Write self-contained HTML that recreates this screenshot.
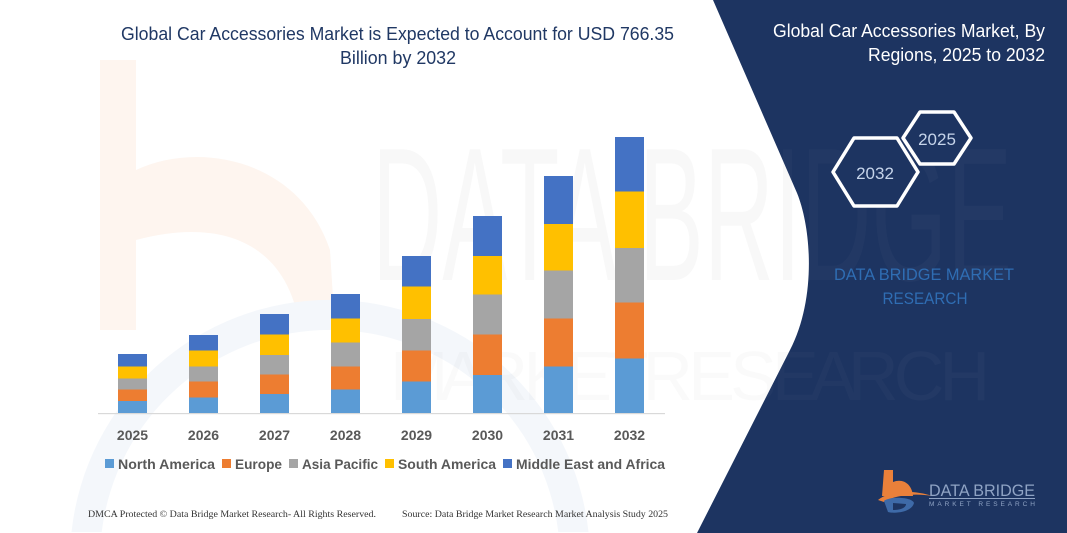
<!DOCTYPE html>
<html><head><meta charset="utf-8"><style>
html,body{margin:0;padding:0;background:#fff;width:1067px;height:533px;overflow:hidden;}
svg{display:block;}
</style></head><body>
<svg width="1067" height="533" viewBox="0 0 1067 533" xmlns="http://www.w3.org/2000/svg">
<defs>
<clipPath id="panel"><path d="M713,0 L1067,0 L1067,533 L697,533 L790,350 C816,300 812,230 797,193 Z"/></clipPath>
</defs>
<rect width="1067" height="533" fill="#fff"/>
<!-- watermarks (left) -->
<path d="M100,60 L136,60 L136,170 C200,140 300,160 330,250 L335,330 L300,330 C290,250 230,215 136,240 L136,330 L100,330 Z" fill="#fef5ef"/>
<path d="M71.5,532 A260,260 0 0 1 588.5,532 L558.3,532 A230,230 0 0 0 101.7,532 Z" fill="#f4f7fb"/>
<text x="372" y="280" font-family="Liberation Sans, sans-serif" font-size="190" fill="#000" opacity="0.022" textLength="640" lengthAdjust="spacingAndGlyphs">DATA BRIDGE</text>
<text x="390" y="400" font-family="Liberation Sans, sans-serif" font-size="70" fill="#000" opacity="0.015" textLength="600" lengthAdjust="spacing">M A R K E T R E S E A R C H</text>

<!-- right panel -->
<path d="M713,0 L1067,0 L1067,533 L697,533 L790,350 C816,300 812,230 797,193 Z" fill="#1d3461"/>
<g clip-path="url(#panel)">
<text x="372" y="280" font-family="Liberation Sans, sans-serif" font-size="190" fill="#fff" opacity="0.025" textLength="640" lengthAdjust="spacingAndGlyphs">DATA BRIDGE</text>
<text x="390" y="400" font-family="Liberation Sans, sans-serif" font-size="70" fill="#fff" opacity="0.025" textLength="600" lengthAdjust="spacing">M A R K E T R E S E A R C H</text>
</g>

<!-- left title -->
<g font-family="Liberation Sans, sans-serif" font-size="18" fill="#203864">
<text x="121" y="40" textLength="553" lengthAdjust="spacingAndGlyphs">Global Car Accessories Market is Expected to Account for USD 766.35</text>
<text x="340" y="64" textLength="116" lengthAdjust="spacingAndGlyphs">Billion by 2032</text>
</g>

<!-- right title -->
<g font-family="Liberation Sans, sans-serif" font-size="18" fill="#fff">
<text x="773" y="37" textLength="272" lengthAdjust="spacingAndGlyphs">Global Car Accessories Market, By</text>
<text x="868" y="61" textLength="177" lengthAdjust="spacingAndGlyphs">Regions, 2025 to 2032</text>
</g>

<!-- hexagons -->
<g fill="#1d3461" stroke="#fff" stroke-width="3.5" stroke-linejoin="round">
<polygon points="903,138 920,112 954,112 971,138 954,164 920,164"/>
<polygon points="833,172 854,138 897,138 918,172 897,206 854,206"/>
</g>
<g font-family="Liberation Sans, sans-serif" font-size="17" fill="#c6d4ea" text-anchor="middle">
<text x="937" y="145">2025</text>
<text x="875" y="179">2032</text>
</g>

<g font-family="Liberation Sans, sans-serif" font-size="17" fill="#2f6db3" text-anchor="middle">
<text x="924" y="280" textLength="180" lengthAdjust="spacingAndGlyphs">DATA BRIDGE MARKET</text>
<text x="925" y="304" textLength="85" lengthAdjust="spacingAndGlyphs">RESEARCH</text>
</g>

<!-- logo -->
<g>
<path d="M884,470 L893,470 L893,482 C903,478 912,484 913,496 L882,496 Z" fill="#e9803a"/>
<path d="M878,500 C890,490 915,490 932,496 C915,493 895,495 884,502 Z" fill="#e9803a"/>
<path d="M884,501 C890,496 912,497 914,503 C912,512 895,514 888,512 Z" fill="#3e6aa8"/>
<path d="M893,503 L893,510 C900,510 906,508 906,504 Z" fill="#1d3461"/>
<text x="929" y="496" font-family="Liberation Sans, sans-serif" font-size="17" fill="#8fa3c4" textLength="106" lengthAdjust="spacingAndGlyphs">DATA BRIDGE</text>
<rect x="929" y="498" width="106" height="1" fill="#8fa3c4"/>
<text x="929" y="506" font-family="Liberation Sans, sans-serif" font-size="6.5" fill="#8fa3c4" textLength="106" lengthAdjust="spacing">MARKET RESEARCH</text>
</g>

<!-- axis -->
<rect x="98" y="413" width="567" height="1.2" fill="#d9d9d9"/>

<!-- bars -->
<g>
<rect x="118" y="401" width="29" height="12" fill="#5b9bd5"/>
<rect x="118" y="389.5" width="29" height="11.5" fill="#ed7d31"/>
<rect x="118" y="378.5" width="29" height="11" fill="#a5a5a5"/>
<rect x="118" y="366.5" width="29" height="12" fill="#ffc000"/>
<rect x="118" y="354" width="29" height="12.5" fill="#4472c4"/>
<rect x="189" y="397.5" width="29" height="15.5" fill="#5b9bd5"/>
<rect x="189" y="381.5" width="29" height="16" fill="#ed7d31"/>
<rect x="189" y="366.5" width="29" height="15" fill="#a5a5a5"/>
<rect x="189" y="350.5" width="29" height="16" fill="#ffc000"/>
<rect x="189" y="335" width="29" height="15.5" fill="#4472c4"/>
<rect x="260" y="394" width="29" height="19" fill="#5b9bd5"/>
<rect x="260" y="374.5" width="29" height="19.5" fill="#ed7d31"/>
<rect x="260" y="355" width="29" height="19.5" fill="#a5a5a5"/>
<rect x="260" y="334.5" width="29" height="20.5" fill="#ffc000"/>
<rect x="260" y="314" width="29" height="20.5" fill="#4472c4"/>
<rect x="331" y="389.5" width="29" height="23.5" fill="#5b9bd5"/>
<rect x="331" y="366.5" width="29" height="23" fill="#ed7d31"/>
<rect x="331" y="342.5" width="29" height="24" fill="#a5a5a5"/>
<rect x="331" y="318.5" width="29" height="24" fill="#ffc000"/>
<rect x="331" y="294" width="29" height="24.5" fill="#4472c4"/>
<rect x="402" y="381.5" width="29" height="31.5" fill="#5b9bd5"/>
<rect x="402" y="350.5" width="29" height="31" fill="#ed7d31"/>
<rect x="402" y="319" width="29" height="31.5" fill="#a5a5a5"/>
<rect x="402" y="286.5" width="29" height="32.5" fill="#ffc000"/>
<rect x="402" y="256" width="29" height="30.5" fill="#4472c4"/>
<rect x="473" y="375" width="29" height="38" fill="#5b9bd5"/>
<rect x="473" y="334.5" width="29" height="40.5" fill="#ed7d31"/>
<rect x="473" y="294.5" width="29" height="40" fill="#a5a5a5"/>
<rect x="473" y="256" width="29" height="38.5" fill="#ffc000"/>
<rect x="473" y="216" width="29" height="40" fill="#4472c4"/>
<rect x="544" y="366.5" width="29" height="46.5" fill="#5b9bd5"/>
<rect x="544" y="318.5" width="29" height="48" fill="#ed7d31"/>
<rect x="544" y="270.5" width="29" height="48" fill="#a5a5a5"/>
<rect x="544" y="224" width="29" height="46.5" fill="#ffc000"/>
<rect x="544" y="176" width="29" height="48" fill="#4472c4"/>
<rect x="615" y="358.5" width="29" height="54.5" fill="#5b9bd5"/>
<rect x="615" y="302.5" width="29" height="56" fill="#ed7d31"/>
<rect x="615" y="248" width="29" height="54.5" fill="#a5a5a5"/>
<rect x="615" y="191.5" width="29" height="56.5" fill="#ffc000"/>
<rect x="615" y="137" width="29" height="54.5" fill="#4472c4"/>
</g>

<!-- year labels -->
<g font-family="Liberation Sans, sans-serif" font-size="14" font-weight="bold" fill="#595959" text-anchor="middle">
<text x="132.5" y="440">2025</text>
<text x="203.5" y="440">2026</text>
<text x="274.5" y="440">2027</text>
<text x="345.5" y="440">2028</text>
<text x="416.5" y="440">2029</text>
<text x="487.5" y="440">2030</text>
<text x="558.5" y="440">2031</text>
<text x="629.5" y="440">2032</text>
</g>

<!-- legend -->
<g font-family="Liberation Sans, sans-serif" font-size="14" font-weight="bold" fill="#595959">
<rect x="105" y="459" width="9" height="9" fill="#5b9bd5"/>
<text x="118" y="469" textLength="97" lengthAdjust="spacingAndGlyphs">North America</text>
<rect x="222" y="459" width="9" height="9" fill="#ed7d31"/>
<text x="235" y="469" textLength="47" lengthAdjust="spacingAndGlyphs">Europe</text>
<rect x="289" y="459" width="9" height="9" fill="#a5a5a5"/>
<text x="302" y="469" textLength="76" lengthAdjust="spacingAndGlyphs">Asia Pacific</text>
<rect x="385" y="459" width="9" height="9" fill="#ffc000"/>
<text x="398" y="469" textLength="98" lengthAdjust="spacingAndGlyphs">South America</text>
<rect x="503" y="459" width="9" height="9" fill="#4472c4"/>
<text x="516" y="469" textLength="149" lengthAdjust="spacingAndGlyphs">Middle East and Africa</text>
</g>

<!-- footer -->
<g font-family="Liberation Serif, serif" font-size="9.5" fill="#333">
<text x="88" y="517" textLength="288" lengthAdjust="spacingAndGlyphs">DMCA Protected © Data Bridge Market Research-  All Rights Reserved.</text>
<text x="402" y="517" textLength="266" lengthAdjust="spacingAndGlyphs">Source: Data Bridge Market Research  Market Analysis Study 2025</text>
</g>
</svg>
</body></html>
